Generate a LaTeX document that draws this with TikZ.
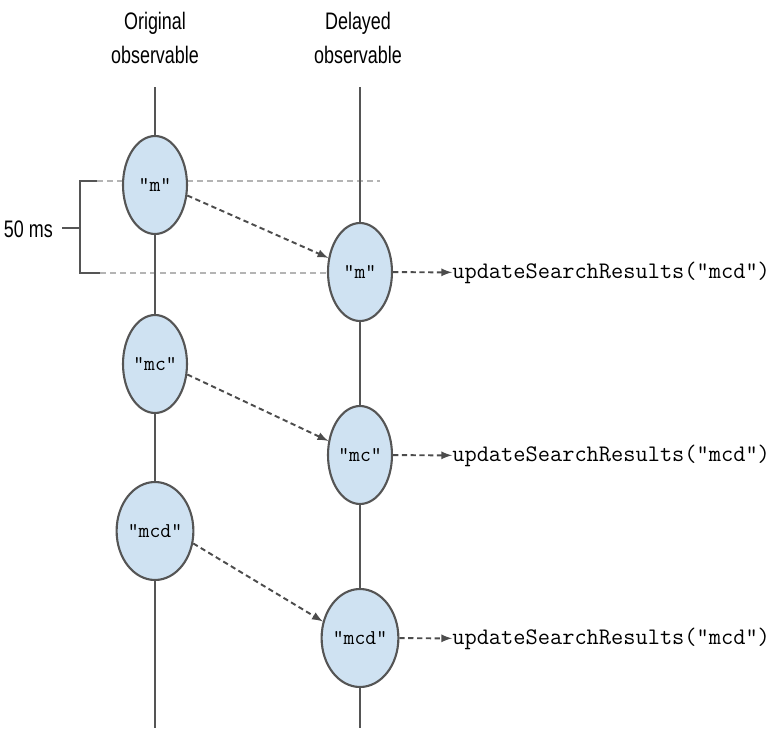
\documentclass[tikz,border=0pt]{standalone}
\usepackage{fontspec}
\usepackage{tikz}
\usetikzlibrary{arrows,shapes.geometric}

\newfontfamily\labelfont[FakeStretch=0.75]{Liberation Sans}
\newcommand{\codefont}{\ttfamily\addfontfeature{FakeBold=1.2}}

\definecolor{evfill}{RGB}{207,226,242}
\definecolor{evline}{RGB}{85,85,85}
\definecolor{guide}{RGB}{180,180,180}

\begin{document}
\begin{tikzpicture}[x=0.02cm, y=-0.02cm,
    event/.style={ellipse, draw=evline, line width=1.2pt, fill=evfill,
      minimum width=1.28cm, minimum height=1.96cm, inner sep=0pt,
      font=\codefont\fontsize{12}{12}\selectfont},
    timeline/.style={evline, line width=0.8pt},
    guideline/.style={guide, line width=1.1pt, dash pattern=on 3.4pt off 2.3pt},
    delay/.style={evline!90!black, line width=1.1pt, dash pattern=on 3pt off 2pt, -latex},
    title/.style={align=center, font=\labelfont\fontsize{13.6}{19.8}\selectfont},
    call/.style={anchor=west, inner sep=0pt, font=\codefont\fontsize{13.5}{13.5}\selectfont}]
        \useasboundingbox (0,0) rectangle (769,734);

        % column headings
        \node[title] (T1) at (155,38) {Original\\observable};
        \node[title] (T2) at (358,38) {Delayed\\observable};

        % 50 ms window, behind the events
        \coordinate (G1) at (97,181);
        \coordinate (G2) at (380,181);
        \coordinate (G3) at (100,273);
        \coordinate (G4) at (330,273);
        \coordinate (B1) at (80,181);
        \coordinate (B2) at (80,273);
        \coordinate (B3) at (80,228);
        \coordinate (B4) at (62,228);
        \draw[guideline] (G1) -- (G2);
        \draw[guideline] (G3) -- (G4);
        \draw[timeline, line width=1.1pt] (G1) -- (B1) -- (B2) -- (G3);
        \draw[timeline, line width=1.1pt] (B3) -- (B4);
        \node[anchor=east, font=\labelfont\fontsize{13.6}{13.6}\selectfont] (W) at (59,229) {50 ms};

        % events
        \node[event] (O1) at (155,185) {"m"};
        \node[event] (O2) at (155,364) {"mc"};
        \node[event] (O3) at (155,531) {"mcd"};
        \node[event] (D1) at (360,272) {"m"};
        \node[event] (D2) at (360,455) {"mc"};
        \node[event] (D3) at (360,638) {"mcd"};

        % timelines
        \coordinate (OT) at (155,87);
        \coordinate (OB) at (155,728);
        \coordinate (DT) at (360,87);
        \coordinate (DB) at (360,728);
        \draw[timeline] (OT) -- (O1) -- (O2) -- (O3) -- (OB);
        \draw[timeline] (DT) -- (D1) -- (D2) -- (D3) -- (DB);

        % delayed emissions
        \draw[delay] (O1.-18) -- (D1.156);
        \draw[delay] (O2.-18) -- (D2.156);
        \draw[delay] (O3.-18) -- (D3.156);

        % search calls
        \node[call] (C1) at (452,273) {updateSearchResults("mcd")};
        \node[call] (C2) at (452,456) {updateSearchResults("mcd")};
        \node[call] (C3) at (452,639) {updateSearchResults("mcd")};
        \draw[delay] (D1) -- (C1);
        \draw[delay] (D2) -- (C2);
        \draw[delay] (D3) -- (C3);
      \end{tikzpicture}
\end{document}
